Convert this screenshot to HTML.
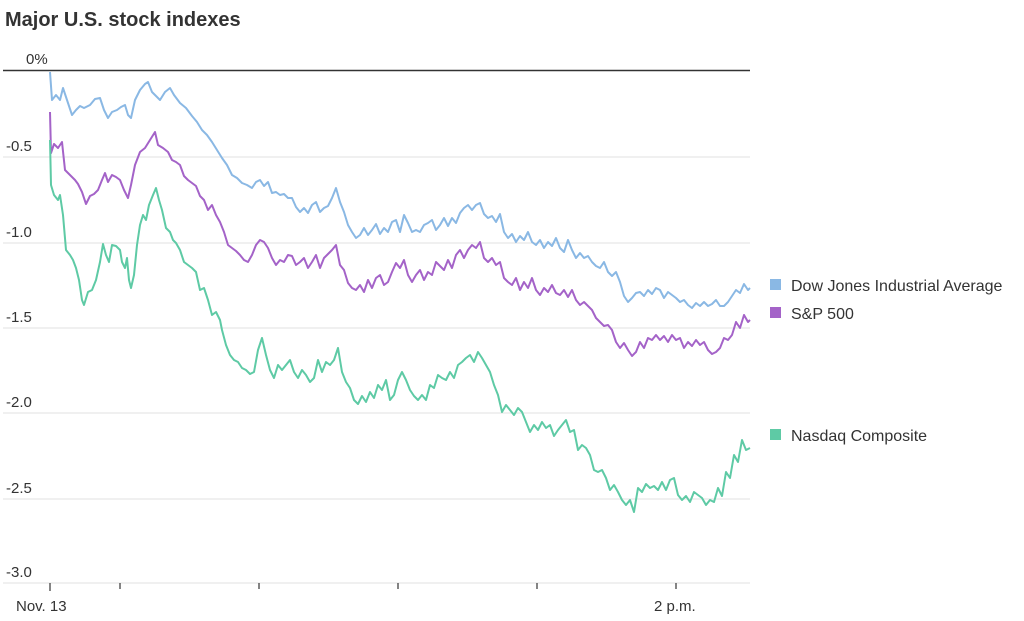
<!DOCTYPE html>
<html><head><meta charset="utf-8"><style>
body{margin:0;background:#fff;}
svg text{font-family:"Liberation Sans",sans-serif;}
</style></head><body>
<svg width="1024" height="616" viewBox="0 0 1024 616">
<text x="5" y="26" font-size="20" font-weight="bold" fill="#333">Major U.S. stock indexes</text>
<g stroke="#e2e2e2" stroke-width="1">
<line x1="3" y1="157" x2="750" y2="157"/><line x1="3" y1="243" x2="750" y2="243"/>
<line x1="3" y1="328" x2="750" y2="328"/><line x1="3" y1="413" x2="750" y2="413"/>
<line x1="3" y1="499" x2="750" y2="499"/><line x1="3" y1="583" x2="750" y2="583"/>
</g>
<line x1="3" y1="70.5" x2="750" y2="70.5" stroke="#333" stroke-width="1.5"/>
<g font-size="15" fill="#333">
<text x="26" y="64">0%</text><text x="6" y="151">-0.5</text><text x="6" y="237">-1.0</text>
<text x="6" y="322">-1.5</text><text x="6" y="407">-2.0</text><text x="6" y="493">-2.5</text><text x="6" y="577">-3.0</text>
<text x="16" y="611" font-size="15">Nov. 13</text><text x="654" y="611">2 p.m.</text>
</g>
<g stroke="#333" stroke-width="1.2">
<line x1="50" y1="583" x2="50" y2="591"/><line x1="120" y1="583" x2="120" y2="589"/>
<line x1="259" y1="583" x2="259" y2="589"/><line x1="398" y1="583" x2="398" y2="589"/>
<line x1="537" y1="583" x2="537" y2="589"/><line x1="676" y1="583" x2="676" y2="589"/>
</g>
<g fill="none" stroke-width="2" stroke-linejoin="round">
<polyline stroke="#8ab8e4" points="50,72 52,100 56,95 60,100 63,88 67,100 72,115 76,110 80,106 84,108 90,105 95,99 100,98 104,110 108,118 112,112 117,110 121,107 125,105 128,115 131,118 135,100 140,90 145,84 148,82 152,92 156,96 160,100 165,92 170,88 174,95 180,103 186,108 192,116 197,122 202,130 207,135 212,142 217,150 222,158 227,165 232,175 237,178 242,183 247,185 252,188 256,182 260,180 264,186 268,182 272,193 276,192 280,195 284,194 288,198 292,198 296,207 300,212 304,208 308,213 312,205 316,202 320,212 324,208 328,206 332,198 336,188 340,202 344,212 348,225 352,232 356,238 360,235 364,228 368,235 372,230 376,224 380,234 384,228 388,232 392,222 396,220 400,232 404,215 408,223 412,232 416,230 420,232 424,225 428,223 432,220 436,230 440,225 444,218 448,226 452,218 456,223 460,213 464,208 468,205 472,210 476,205 480,203 484,214 488,218 492,216 496,222 500,214 504,232 508,238 512,234 516,242 520,236 524,240 528,232 532,242 536,245 540,240 544,248 548,242 552,246 556,238 560,248 564,252 568,240 572,250 576,258 580,253 584,258 588,256 592,262 596,266 600,268 604,262 608,272 612,276 616,272 620,282 624,296 628,302 632,298 636,293 640,292 644,296 648,290 652,294 656,288 660,290 664,298 668,292 672,295 676,298 680,302 684,300 688,305 692,308 696,303 700,306 704,302 708,306 712,304 716,300 720,306 724,306 728,302 732,296 736,290 740,293 744,284 748,290 750,288"/>
<polyline stroke="#a463c8" points="50,112 51,153 54,144 58,148 62,142 65,170 70,175 75,180 78,184 82,192 86,204 90,196 94,194 98,190 102,180 105,173 108,182 112,175 116,177 120,180 124,190 128,198 131,185 135,165 140,152 145,148 150,140 155,132 158,145 163,148 168,152 172,160 176,162 180,165 184,176 188,180 192,183 196,186 200,196 204,200 208,210 212,205 216,215 220,222 224,232 228,245 232,248 236,251 240,255 244,260 248,262 252,255 256,245 260,240 264,242 268,248 272,258 276,265 280,260 284,262 288,255 292,256 296,265 300,262 304,258 308,268 312,262 316,255 320,268 324,258 328,254 332,250 336,245 340,265 344,270 348,283 352,288 356,290 360,285 364,292 368,280 372,288 376,278 380,275 384,285 388,282 392,272 396,263 400,268 404,260 408,275 412,282 416,275 420,270 424,280 428,272 432,275 436,262 440,266 444,270 448,260 452,268 456,255 460,250 464,258 468,250 472,245 476,248 480,242 484,258 488,262 492,258 496,265 500,262 504,278 508,282 512,285 516,278 520,290 524,282 528,288 532,278 536,290 540,295 544,288 548,292 552,285 556,293 560,295 564,290 568,297 572,290 576,300 580,305 584,302 588,306 592,310 596,318 600,322 604,326 608,325 612,330 616,342 620,348 624,343 628,350 632,356 636,352 640,342 644,348 648,338 652,340 656,335 660,340 664,336 668,342 672,335 676,340 680,338 684,348 688,342 692,346 696,340 700,345 704,342 708,350 712,354 716,352 720,348 724,338 728,340 732,335 736,322 740,328 744,315 748,322 750,320"/>
<polyline stroke="#5ecaa5" points="50,140 51,185 54,195 58,200 60,195 63,215 66,250 70,255 73,260 76,268 79,280 82,300 84,305 88,292 92,290 96,280 100,262 103,244 106,255 109,262 112,245 116,246 120,250 122,262 125,268 127,258 129,280 131,288 134,275 137,245 140,225 143,215 146,220 149,205 153,195 156,188 159,200 162,210 166,228 170,232 173,240 176,243 180,250 184,262 188,265 192,268 196,272 200,290 204,288 208,300 212,315 216,312 220,320 222,330 226,345 230,355 234,360 238,362 242,368 246,370 250,374 254,372 258,350 262,338 266,355 270,370 274,378 278,365 282,370 286,365 290,360 294,372 298,378 302,370 306,375 310,382 314,378 318,360 322,372 326,362 330,365 334,360 338,348 342,372 346,382 350,388 354,400 358,404 362,396 366,402 370,392 374,398 378,385 382,390 386,380 390,400 394,395 398,380 402,372 406,380 410,390 414,396 418,400 422,395 426,400 430,385 434,388 438,375 442,378 446,380 450,372 454,378 458,365 462,362 466,358 470,355 474,362 478,352 482,358 486,365 490,372 494,385 498,395 502,412 506,405 510,410 514,415 518,408 522,412 526,422 530,432 534,425 538,430 542,422 546,428 550,425 554,436 558,430 562,425 566,420 570,432 574,430 578,450 582,445 586,448 590,455 594,470 598,472 602,470 606,478 610,490 614,485 618,492 622,500 626,505 630,500 634,512 638,488 642,492 646,484 650,488 654,486 658,490 662,482 666,490 670,480 674,478 678,495 682,500 686,496 690,502 694,492 698,495 702,498 706,505 710,500 714,502 718,488 722,496 726,472 730,478 734,455 738,462 742,440 746,450 750,448"/>
</g>
<g font-size="16" fill="#333">
<rect x="770" y="279" width="11" height="11" fill="#8ab8e4"/><text x="791" y="291">Dow Jones Industrial Average</text>
<rect x="770" y="307" width="11" height="11" fill="#a463c8"/><text x="791" y="319">S&amp;P 500</text>
<rect x="770" y="429" width="11" height="11" fill="#5ecaa5"/><text x="791" y="441">Nasdaq Composite</text>
</g>
</svg>
</body></html>
